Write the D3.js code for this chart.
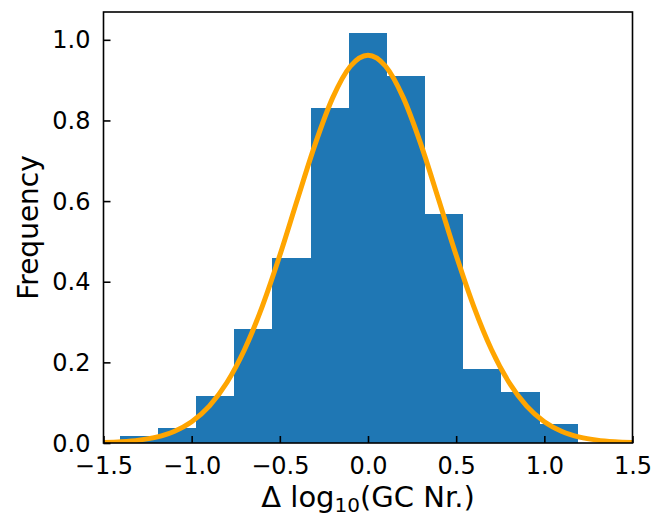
<!DOCTYPE html>
<html>
<head>
<meta charset="utf-8">
<script src="https://cdn.jsdelivr.net/npm/d3@7"></script>
<style>
  body { margin: 0; background: #fff; }
  svg { display: block; font-family: "DejaVu Sans", sans-serif; }
</style>
</head>
<body>
<div id="chart"></div>
<script>
// histogram bin edges and normalised frequencies
const binEdges = [-1.406, -1.190, -0.974, -0.758, -0.542, -0.326, -0.110, 0.106, 0.322, 0.538, 0.754, 0.970, 1.186];
const binHeights = [0.018, 0.037, 0.117, 0.283, 0.460, 0.832, 1.018, 0.911, 0.568, 0.184, 0.127, 0.047];

// fitted curve, every 0.1
const curveX = [-1.5, -1.4, -1.3, -1.2, -1.1, -1.0, -0.9, -0.8, -0.7, -0.6, -0.5, -0.4, -0.3, -0.2, -0.1, 0.0,
                0.1, 0.2, 0.3, 0.4, 0.5, 0.6, 0.7, 0.8, 0.9, 1.0, 1.1, 1.2, 1.3, 1.4, 1.5];
const curveY = [0.0014, 0.0033, 0.0071, 0.0147, 0.0287, 0.0527, 0.0916, 0.1501, 0.2319, 0.3383, 0.4655, 0.6046, 0.7408, 0.8566, 0.9345, 0.962,
                0.9345, 0.8566, 0.7408, 0.6046, 0.4655, 0.3383, 0.2319, 0.1501, 0.0916, 0.0527, 0.0287, 0.0147, 0.0071, 0.0033, 0.0014];

const xTicks = [-1.5, -1.0, -0.5, 0.0, 0.5, 1.0, 1.5];
const yTicks = [0.0, 0.2, 0.4, 0.6, 0.8, 1.0];

const width = 670, height = 518;
const margin = { top: 12, right: 37.5, bottom: 75, left: 103.5 };
const innerW = width - margin.left - margin.right;
const innerH = height - margin.top - margin.bottom;

const x = d3.scaleLinear().domain([-1.5, 1.5]).range([0, innerW]);
const y = d3.scaleLinear().domain([0, 1.069]).range([innerH, 0]);

const svg = d3.select("#chart").append("svg")
    .attr("width", width)
    .attr("height", height);

svg.append("defs").append("clipPath")
    .attr("id", "plot-clip")
    .append("rect")
    .attr("width", innerW)
    .attr("height", innerH);

const g = svg.append("g").attr("transform", `translate(${margin.left},${margin.top})`);

// bars
const bins = binHeights.map((h, i) => ({ x0: binEdges[i], x1: binEdges[i + 1], h }));
g.append("g")
    .attr("shape-rendering", "crispEdges")
    .selectAll("rect")
    .data(bins)
    .join("rect")
    .attr("x", d => x(d.x0))
    .attr("width", d => x(d.x1) - x(d.x0) + 0.5)
    .attr("y", d => y(d.h))
    .attr("height", d => y(0) - y(d.h))
    .attr("fill", "#1f77b4");

// fit line
const line = d3.line()
    .x((d, i) => x(curveX[i]))
    .y(d => y(d))
    .curve(d3.curveMonotoneX);

g.append("path")
    .attr("clip-path", "url(#plot-clip)")
    .attr("d", line(curveY))
    .attr("fill", "none")
    .attr("stroke", "#ffa500")
    .attr("stroke-width", 5)
    .attr("stroke-linejoin", "round");

// axes, ticks pointing inwards
const xAxis = g.append("g")
    .attr("transform", `translate(0,${innerH})`)
    .call(d3.axisBottom(x).tickValues(xTicks).tickSize(-7).tickPadding(14)
        .tickFormat(d => d3.format(".1f")(d).replace("-", "\u2212")));
const yAxis = g.append("g")
    .call(d3.axisLeft(y).tickValues(yTicks).tickSize(-7).tickPadding(13)
        .tickFormat(d3.format(".1f")));

[xAxis, yAxis].forEach(a => {
    a.select(".domain").remove();
    a.selectAll(".tick line").attr("stroke", "#000").attr("stroke-width", 1.6);
    a.selectAll(".tick text").attr("fill", "#000").style("font-size", "24px")
        .style("font-family", "'DejaVu Sans', sans-serif");
});
yAxis.selectAll(".tick text").attr("dy", "0.34em");

// frame
g.append("rect")
    .attr("width", innerW)
    .attr("height", innerH)
    .attr("fill", "none")
    .attr("stroke", "#000")
    .attr("stroke-width", 1.6);

// axis labels
const xl = svg.append("text")
    .attr("x", margin.left + x(0))
    .attr("y", 507)
    .attr("text-anchor", "middle")
    .style("font-size", "29px");
xl.append("tspan").text("\u0394 log");
xl.append("tspan").attr("dy", 5).style("font-size", "20px").text("10");
xl.append("tspan").attr("dy", -5).text("(GC Nr.)");

svg.append("text")
    .attr("transform", `translate(38,${margin.top + innerH / 2}) rotate(-90)`)
    .attr("text-anchor", "middle")
    .style("font-size", "28px")
    .text("Frequency");
</script>
</body>
</html>
